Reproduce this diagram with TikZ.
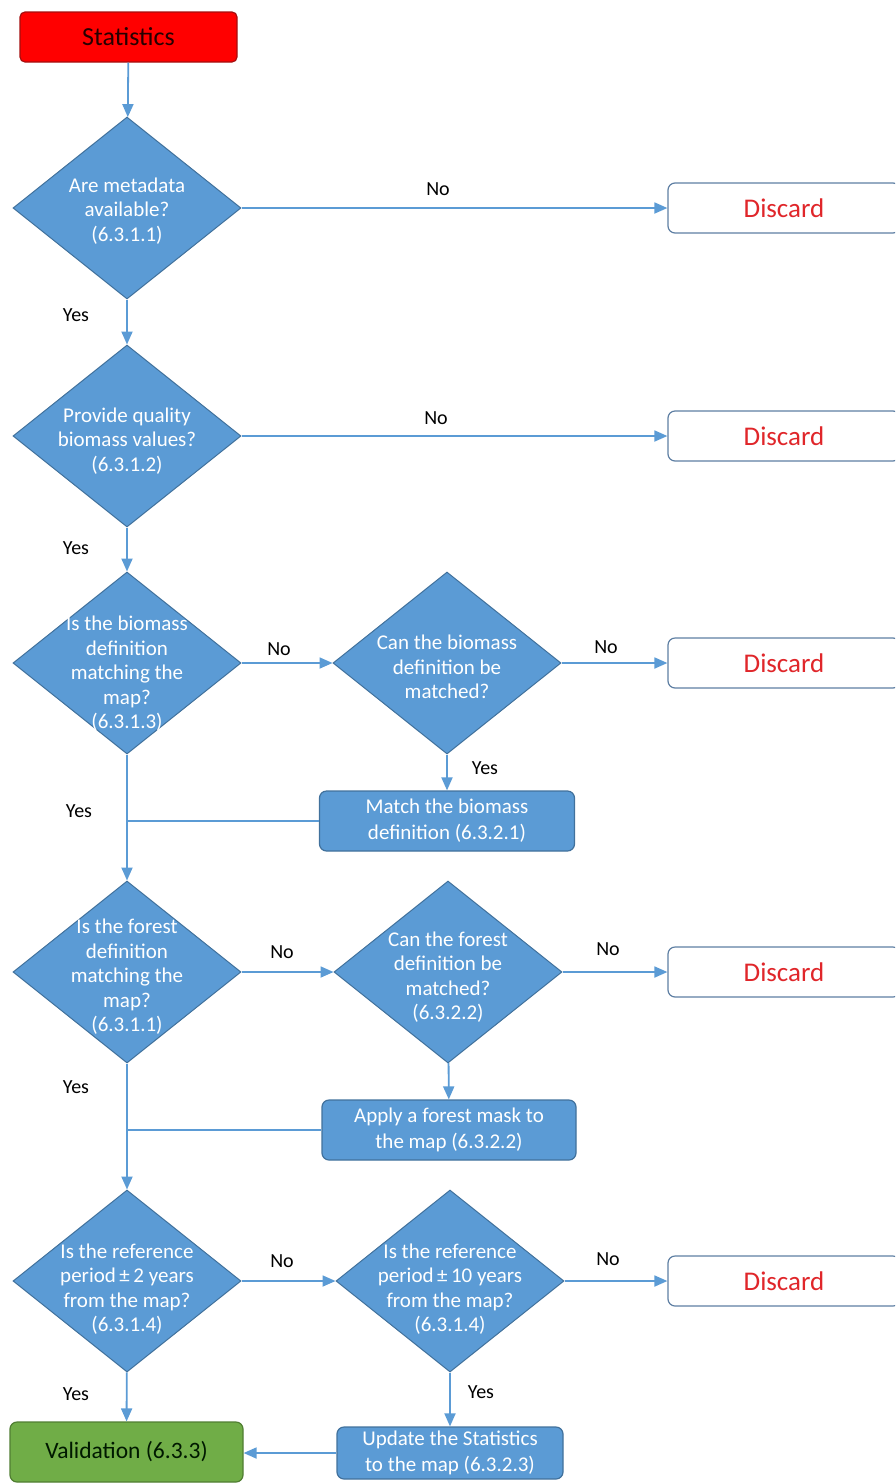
\documentclass[tikz,border=0pt]{standalone}
\usepackage{fontspec}
\setmainfont{Carlito}
\usetikzlibrary{arrows.meta,shapes.geometric}
\definecolor{fillblue}{HTML}{5B9BD5}
\definecolor{edgeblue}{HTML}{41719C}
\definecolor{lineblue}{HTML}{5B9BD5}
\definecolor{discedge}{HTML}{5E7FA3}
\definecolor{discred}{HTML}{E0262A}
\definecolor{startred}{HTML}{FF0000}
\definecolor{startedge}{HTML}{A50F0F}
\definecolor{valgreen}{HTML}{70AD47}
\definecolor{valedge}{HTML}{507E32}
\tikzset{
  dia/.style={diamond, draw=edgeblue, line width=1pt, fill=fillblue, minimum width=228pt, minimum height=182pt, inner sep=0pt},
  dtxt/.style={text=white, align=center, font=\fontsize{21}{24.5}\selectfont, inner sep=0pt},
  proc/.style={rectangle, rounded corners=7pt, draw=edgeblue, line width=1.2pt, fill=fillblue, text=white, align=center, font=\fontsize{21}{26}\selectfont, inner sep=0pt},
  disc/.style={rectangle, rounded corners=7pt, draw=discedge, line width=1.2pt, fill=white, text=discred, font=\fontsize{27}{30}\selectfont, minimum width=232pt, minimum height=50pt, inner sep=0pt},
  conn/.style={draw=lineblue, line width=1.8pt, -{Triangle[length=13pt,width=11pt]}},
  joinline/.style={draw=lineblue, line width=1.8pt},
  lbl/.style={font=\fontsize{20}{24}\selectfont, text=black, inner sep=0pt}
}
\begin{document}
\begin{tikzpicture}[x=1pt,y=-1pt]
\useasboundingbox (0,0) rectangle (895,1484);
\clip (0,0) rectangle (895,1484);

% start
\node[rectangle, rounded corners=5pt, draw=startedge, line width=1.2pt, fill=startred, minimum width=217pt, minimum height=50pt, inner sep=0pt, text=black!85!red, font=\fontsize{26}{30}\selectfont] (st) at (128.5,37) {Statistics};

% main diamonds
\node[dia] (d1) at (127,208) {};
\node[dtxt] (t1) at (127,211) {Are metadata\\available?\\(6.3.1.1)};
\node[dia] (d2) at (127,436) {};
\node[dtxt] (t2) at (127,441) {Provide quality\\biomass values?\\(6.3.1.2)};
\node[dia] (d3) at (127,663) {};
\node[dtxt] (t3) at (127,674) {Is the biomass\\definition\\matching the\\map?\\(6.3.1.3)};
\node[dia] (d4) at (127,972) {};
\node[dtxt] (t4) at (127,977) {Is the forest\\definition\\matching the\\map?\\(6.3.1.1)};
\node[dia] (d5) at (127,1281) {};
\node[dtxt] (t5) at (127,1289) {Is the reference\\period\,±\,2 years\\from the map?\\(6.3.1.4)};

% side diamonds
\node[dia] (d3b) at (447,663) {};
\node[dtxt] (t3b) at (447,667) {Can the biomass\\definition be\\matched?};
\node[dia] (d4b) at (448,972) {};
\node[dtxt] (t4b) at (448,977) {Can the forest\\definition be\\matched?\\(6.3.2.2)};
\node[dia] (d5b) at (450,1281) {};
\node[dtxt] (t5b) at (450,1289) {Is the reference\\period\,±\,10 years\\from the map?\\(6.3.1.4)};

% process boxes
\node[proc, minimum width=255pt, minimum height=60pt] (m1) at (447,821) {Match the biomass\\definition (6.3.2.1)};
\node[proc, minimum width=254pt, minimum height=60pt] (a1) at (449,1130) {Apply a forest mask to\\the map (6.3.2.2)};
\node[proc, minimum width=226pt, minimum height=52pt] (u1) at (450,1453) {Update the Statistics\\to the map (6.3.2.3)};

% validation
\node[rectangle, rounded corners=7pt, draw=valedge, line width=1.2pt, fill=valgreen, minimum width=233pt, minimum height=60pt, inner sep=0pt, text=black!90!green, font=\fontsize{23.5}{27}\selectfont] (val) at (126.5,1452) {Validation (6.3.3)};

% discard boxes
\node[disc] (x1) at (784,208) {Discard};
\node[disc] (x2) at (784,436) {Discard};
\node[disc] (x3) at (784,663) {Discard};
\node[disc] (x4) at (784,972) {Discard};
\node[disc] (x5) at (784,1281) {Discard};

% connectors
\draw[conn] (st) -- (d1);
\draw[conn] (d1) -- (d2);
\draw[conn] (d2) -- (d3);
\draw[conn] (d3) -- (d4);
\draw[conn] (d4) -- (d5);
\draw[conn] (d5) -- (val);

\draw[conn] (d1.east) -- (x1.west);
\draw[conn] (d2.east) -- (x2.west);
\draw[conn] (d3.east) -- (d3b.west);
\draw[conn] (d3b.east) -- (x3.west);
\draw[conn] (d4.east) -- (d4b.west);
\draw[conn] (d4b.east) -- (x4.west);
\draw[conn] (d5.east) -- (d5b.west);
\draw[conn] (d5b.east) -- (x5.west);

\draw[conn] (d3b) -- (m1);
\draw[conn] (d4b) -- (a1);
\draw[conn] (d5b) -- (u1);
\draw[conn] (u1.west) -- (u1.west -| val.east);

\draw[joinline] (m1.west) -- (m1.west -| d3.south);
\draw[joinline] (a1.west) -- (a1.west -| d4.south);

% labels
\node[lbl] (n1) at (438,189) {No};
\node[lbl] (n2) at (436,418) {No};
\node[lbl] (n3) at (279,649) {No};
\node[lbl] (n3b) at (606,647) {No};
\node[lbl] (n4) at (282,952) {No};
\node[lbl] (n4b) at (608,949) {No};
\node[lbl] (n5) at (282,1261) {No};
\node[lbl] (n5b) at (608,1259) {No};

\node[lbl] (y1) at (76,315) {Yes};
\node[lbl] (y2) at (76,548) {Yes};
\node[lbl] (y3) at (79,811) {Yes};
\node[lbl] (y4) at (76,1087) {Yes};
\node[lbl] (y5) at (76,1394) {Yes};
\node[lbl] (y3b) at (485,768) {Yes};
\node[lbl] (y5b) at (481,1392) {Yes};
\end{tikzpicture}
\end{document}
